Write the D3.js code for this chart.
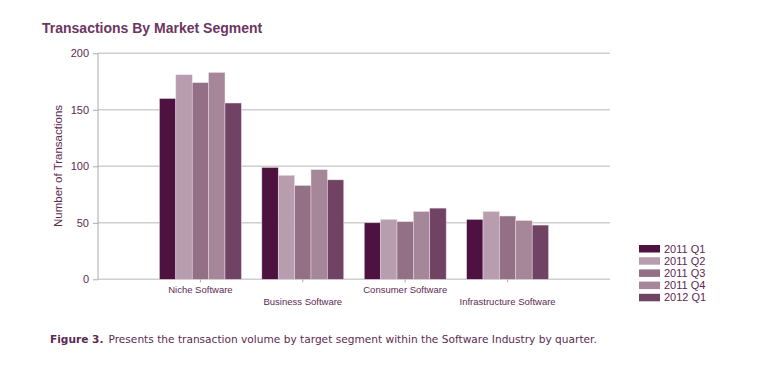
<!DOCTYPE html>
<html><head><meta charset="utf-8">
<script src="https://cdn.jsdelivr.net/npm/d3@7"></script>
<style>body{margin:0;background:#fff;}svg{display:block;}</style>
</head><body>
<svg id="c" width="777" height="390"></svg>
<script>
const categories = ["Niche Software","Business Software","Consumer Software","Infrastructure Software"];
const seriesNames = ["2011 Q1","2011 Q2","2011 Q3","2011 Q4","2012 Q1"];
const q1_2011 = [160, 99, 50, 53];
const q2_2011 = [181, 92, 53, 60];
const q3_2011 = [174, 83, 51, 56];
const q4_2011 = [183, 97, 60, 52];
const q1_2012 = [156, 88, 63, 48];
const seriesValues = [q1_2011, q2_2011, q3_2011, q4_2011, q1_2012];
const colors = ["#4e1240","#b79dae","#937086","#a68699","#704264"];
const yTicks = [0,50,100,150,200];

const svg = d3.select("#c");
const textColor = "#5c2a52";
const x0 = d3.scaleBand().domain(categories).range([98,610]).paddingInner(0.2).paddingOuter(0.6);
const x1 = d3.scaleBand().domain(seriesNames).range([0, x0.bandwidth()]);
const y = d3.scaleLinear().domain([0,200]).range([279.3,53.3]);

// gridlines
svg.append("g").selectAll("line").data(yTicks).join("line")
  .attr("x1",98).attr("x2",610).attr("y1",d=>y(d)).attr("y2",d=>y(d))
  .attr("stroke","#cfcfcf").attr("stroke-width",1.6);

// y axis
const yAxis = d3.axisLeft(y).tickValues(yTicks).tickSize(5).tickPadding(4);
const ga = svg.append("g").attr("transform","translate(98,0)").call(yAxis);
ga.select(".domain").attr("stroke","#aaaaaa").attr("d","M0,53.3V279.3");
ga.selectAll(".tick line").attr("stroke","#aaaaaa");
ga.selectAll("text").attr("fill",textColor).style("font-family","Liberation Sans, Arial, sans-serif").style("font-size","11px");

// bars
const groups = svg.append("g").selectAll("g").data(categories).join("g")
  .attr("transform",d=>`translate(${x0(d)},0)`);
groups.selectAll("rect").data((c,i)=>seriesNames.map((s,j)=>({s, v: seriesValues[j][i], j})))
  .join("rect")
  .attr("x",d=>x1(d.s)).attr("width",x1.bandwidth())
  .attr("y",d=>y(d.v)).attr("height",d=>y(0)-y(d.v))
  .attr("fill",d=>colors[d.j]).attr("stroke","#e8dde4").attr("stroke-width",0.5);

// x axis
const xAxis = d3.axisBottom(x0).tickSize(3).tickSizeOuter(0).tickPadding(4);
const gx = svg.append("g").attr("transform","translate(0,279.3)").call(xAxis);
gx.select(".domain").remove();
gx.selectAll(".tick line").attr("stroke","#aaaaaa");
gx.selectAll("text").attr("fill",textColor).style("font-family","Liberation Sans, Arial, sans-serif").style("font-size","9.5px")
  .attr("dy",(d,i)=> i%2 ? "1.95em" : "0.75em");

// y title
svg.append("text").attr("transform","translate(62,166) rotate(-90)").attr("text-anchor","middle")
  .attr("fill",textColor).style("font-family","Liberation Sans, Arial, sans-serif").style("font-size","11.5px")
  .text("Number of Transactions");

// title
svg.append("text").attr("x",42).attr("y",33).attr("fill","#6b365f")
  .style("font-family","Liberation Sans, Arial, sans-serif").style("font-size","14px").style("font-weight","bold")
  .text("Transactions By Market Segment");

// legend
const lg = svg.append("g").attr("transform","translate(639,245)");
const li = lg.selectAll("g").data(seriesNames).join("g").attr("transform",(d,i)=>`translate(0,${i*12.2})`);
li.append("rect").attr("width",21).attr("height",7.5).attr("fill",(d,i)=>colors[i]);
li.append("text").attr("x",25).attr("y",7.5).attr("fill",textColor)
  .style("font-family","Liberation Sans, Arial, sans-serif").style("font-size","11px").text(d=>d);

// caption
const cap = svg.append("text").attr("x",50).attr("y",343).attr("fill","#5c2a52")
  .style("font-family","DejaVu Sans, Verdana, sans-serif").style("font-size","10.6px");
cap.append("tspan").style("font-weight","bold").text("Figure 3.");
cap.append("tspan").attr("dx",5).text("Presents the transaction volume by target segment within the Software Industry by quarter.");
</script>
</body></html>
